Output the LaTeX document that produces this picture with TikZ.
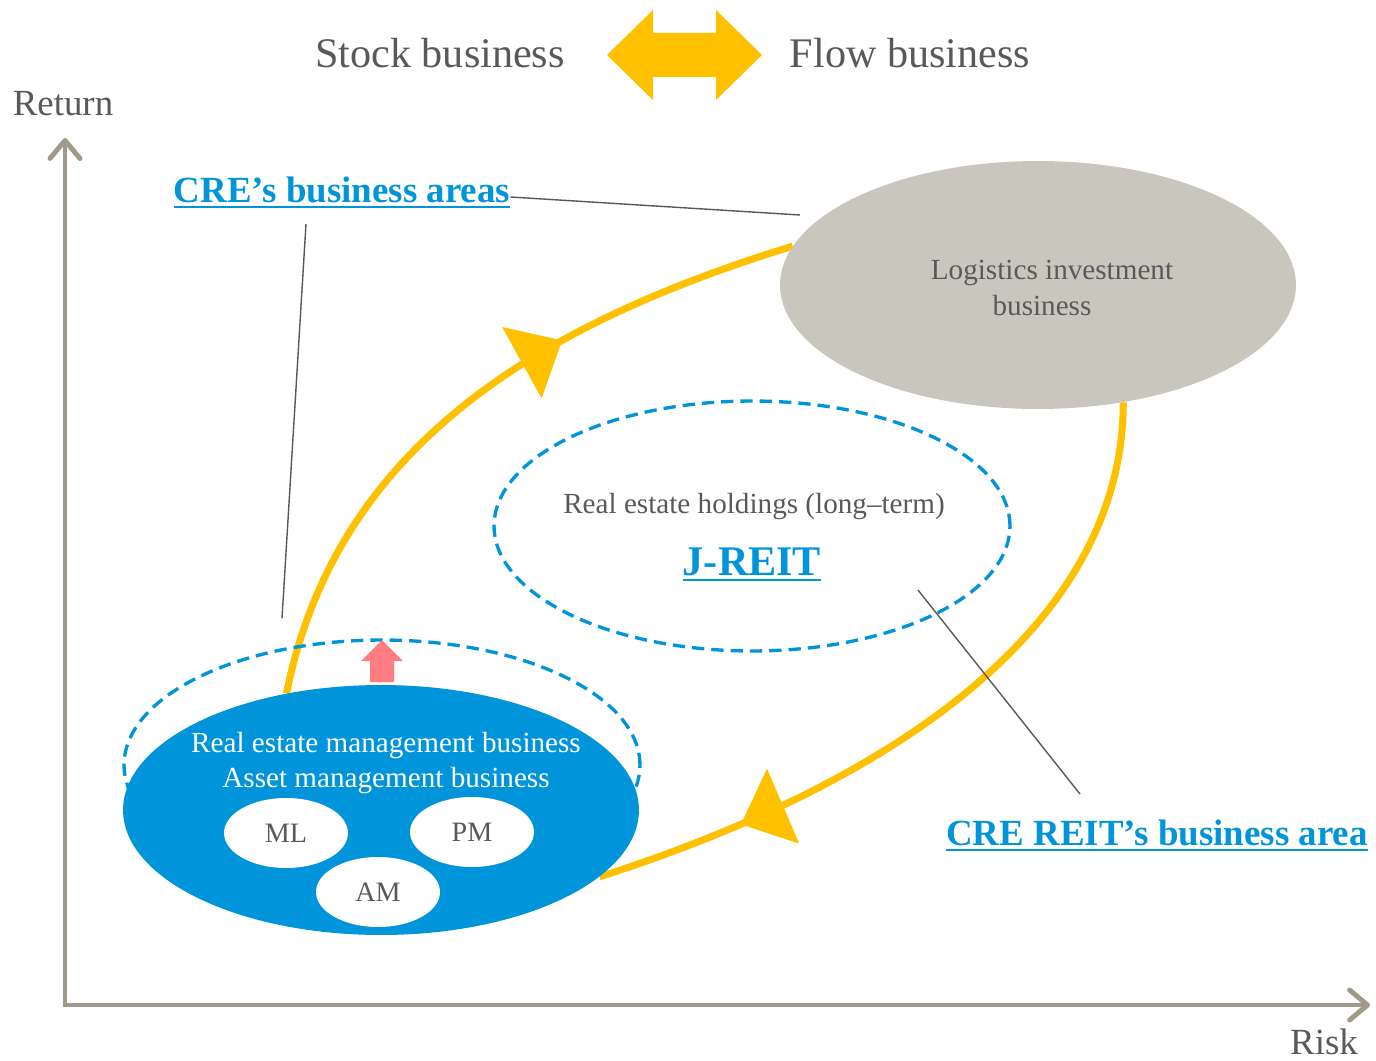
\documentclass[tikz,border=0pt]{standalone}
\usepackage{fontspec}
\setmainfont{Liberation Serif}
\usetikzlibrary{arrows.meta,shapes.geometric,decorations.markings,backgrounds}
\definecolor{creblue}{HTML}{0094DA}
\definecolor{txtgray}{HTML}{595959}
\definecolor{axisgray}{HTML}{A09A8A}
\definecolor{loopgold}{HTML}{FFC000}
\definecolor{logisgray}{HTML}{C8C6BD}
\definecolor{uppink}{HTML}{FF7C80}
\newcommand{\ulined}[1]{\setbox0\hbox{#1}\leavevmode\rlap{\vrule width \wd0 height -2.1pt depth 3.2pt}\box0}
\tikzstyle{zone}=[ellipse, inner sep=0pt, minimum width=10.32cm, minimum height=5cm]
\tikzstyle{dashzone}=[zone, draw=creblue, line width=1.9pt, dash pattern=on 7pt off 4pt]
\tikzstyle{unit}=[ellipse, fill=white, inner sep=0pt,
  minimum width=2.48cm, minimum height=1.4cm, text=txtgray, font=\fontsize{16}{19}\selectfont]
\tikzstyle{note}=[text=txtgray, font=\fontsize{16.6}{20}\selectfont, align=center, inner sep=0pt]
\tikzstyle{area}=[text=creblue, font=\bfseries\fontsize{21}{25}\selectfont, inner sep=0pt]
\tikzstyle{title}=[text=txtgray, font=\fontsize{24}{28}\selectfont]
\tikzstyle{axislabel}=[text=txtgray, font=\fontsize{21}{25}\selectfont]
\tikzstyle{axis}=[axisgray, line width=2.8pt,
  {Straight Barb[length=0.36cm, width=0.6cm, round]}-{Straight Barb[length=0.36cm, width=0.6cm, round]}]
\tikzstyle{loopline}=[loopgold, line width=4pt]
\tikzstyle{leader}=[txtgray, line width=0.8pt]

\begin{document}
\begin{tikzpicture}[x=0.02cm, y=-0.02cm]
  \useasboundingbox (0,0) rectangle (1376,1061);

  \node(stock)[title] at (440,53) {Stock business};
  \path(stock.center)+(470,0) node(flow)[title]{Flow business};
  \fill[loopgold] (607,55) -- (653,10) -- (653,33) -- (716,33) -- (716,10) -- (762,55)
    -- (716,100) -- (716,77) -- (653,77) -- (653,100) -- cycle;

  \coordinate(origin) at (65,1005);
  \path(origin)+(0,-867) coordinate(ytop);
  \path(origin)+(1305,0) coordinate(xtip);
  \draw[axis] (ytop) -- (origin) -- (xtip);
  \node(return)[axislabel] at (63,104) {Return};
  \node(risk)[axislabel] at (1324,1042) {Risk};

  \node(growth)[dashzone] at (382,765) {};
  \node(jreit)[dashzone] at (752,526) {};
  \node(property)[zone, fill=creblue] at (381,810) {};
  \node(logistics)[zone, fill=logisgray, minimum height=4.96cm] at (1038,285) {};
  \path(logistics.center)+(14,3) node(logistext)[note]{
    Logistics investment\\
    business\hspace*{0.4cm}
  };

  \path(property.center)+(5,-58) node(remtext)[note, text=white, anchor=base]{Real estate management business};
  \path(property.center)+(5,-23) node(amtext)[note, text=white, anchor=base]{Asset management business};
  \path(property.center)+(-95,23) node(ml)[unit]{ML};
  \path(property.center)+(91,22) node(pm)[unit]{PM};
  \path(property.center)+(-3,82) node(am)[unit]{AM};
  \fill[uppink] (382,640) -- (403,661) -- (394,661) -- (394,682) -- (370,682) -- (370,661) -- (361,661) -- cycle;

  \path(jreit.center)+(2,-13) node(holdings)[note, anchor=base]{Real estate holdings (long--term)};
  \path(jreit.center)+(0,49) node(jreitname)[area, font=\bfseries\fontsize{24}{28}\selectfont, anchor=base]{\ulined{J-REIT}};

  \node(cre)[area, anchor=base] at (342,202) {\ulined{CRE's business areas}};
  \node(reit)[area, anchor=base] at (1157,845) {\ulined{CRE REIT's business area}};

  \path(logistics.center)+(-238,-70) coordinate(logisnear);
  \draw[leader] ([yshift=0.1cm]cre.base east) -- (logisnear);
  \path(cre.south)+(-36,16) coordinate(crefoot);
  \path(growth.north)+(-100,-20) coordinate(growthtop);
  \draw[leader] (crefoot) -- (growthtop);
  \path(jreit.center)+(166,64) coordinate(jreitinner);
  \path(reit.north)+(-77,-25) coordinate(reittop);
  \draw[leader] (jreitinner) -- (reittop);

  \begin{scope}[on background layer]
    \draw[loopline, postaction={decorate}, decoration={markings,
      mark=at position 0.65 with {\arrow{Triangle[length=0.92cm, width=1.6cm]}}}]
      (property.129) .. controls +(50,-250) and +(-250,77) .. (logistics.171);
    \draw[loopline, postaction={decorate}, decoration={markings,
      mark=at position 0.8 with {\arrow{Triangle[length=0.92cm, width=1.6cm]}}}]
      (logistics.306) .. controls +(0,220) and +(300,-96) .. (property.343);
  \end{scope}
\end{tikzpicture}
\end{document}
